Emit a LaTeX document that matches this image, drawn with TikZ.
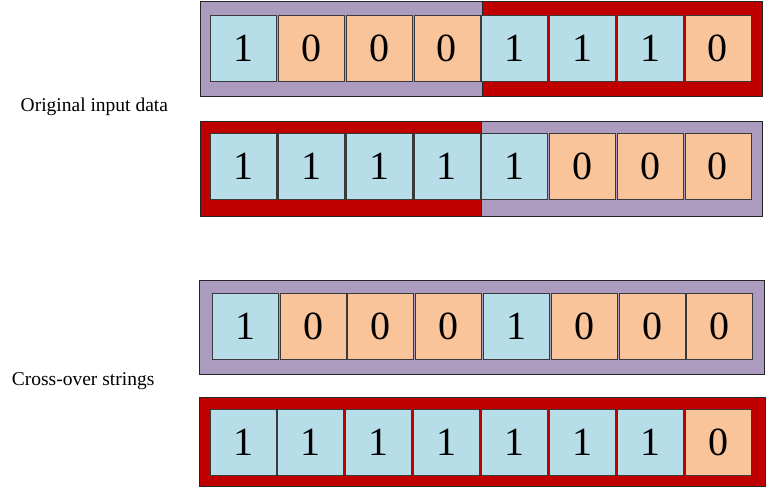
\documentclass[tikz,border=0pt]{standalone}
\usepackage{fontspec}
\setmainfont{Liberation Serif}
\definecolor{cellblue}{HTML}{B7DEE8}
\definecolor{cellorange}{HTML}{F9C49A}
\definecolor{framepurple}{HTML}{AA9BBF}
\definecolor{framered}{HTML}{C00000}
\definecolor{cellline}{HTML}{3A3A3A}
\begin{document}
\begin{tikzpicture}[x=1pt,y=-1pt,
  cell/.style={draw=cellline, line width=0.9pt, minimum width=66pt, minimum height=66pt, inner sep=0pt, font=\fontsize{40}{40}\selectfont},
  bit1/.style={cell, fill=cellblue},
  bit0/.style={cell, fill=cellorange},
  frame/.style={draw=black!85, line width=0.8pt, inner sep=0pt, anchor=north west},
  lbl/.style={anchor=base west, inner sep=0pt, font=\fontsize{19.5}{22}\selectfont}]
\useasboundingbox (0,0) rectangle (768,488);
% frames
\node[frame, fill=framepurple, minimum width=281.7pt, minimum height=94.5pt] (fa1) at (200,1) {};
\node[frame, fill=framered, minimum width=280.6pt, minimum height=94.5pt] (fa2) at (481.7,1) {};
\node[frame, fill=framered, minimum width=281pt, minimum height=95.3pt] (fb1) at (200,120.7) {};
\node[frame, fill=framepurple, minimum width=281.3pt, minimum height=95.3pt] (fb2) at (481,120.7) {};
\node[frame, fill=framepurple, minimum width=565.5pt, minimum height=94pt] (fc) at (198.5,279.5) {};
\node[frame, fill=framered, minimum width=566.5pt, minimum height=88.7pt] (fd) at (198.5,397.3) {};
% cells
\foreach \b [count=\i from 0] in {1,0,0,0,1,1,1,0}
  \node[bit\b] (ra\i) at ({243.7+67.75*\i},48) {\b};
\foreach \b [count=\i from 0] in {1,1,1,1,1,0,0,0}
  \node[bit\b] (rb\i) at ({243.7+67.75*\i},166.3) {\b};
\foreach \b [count=\i from 0] in {1,0,0,0,1,0,0,0}
  \node[bit\b] (rc\i) at ({245.3+67.8*\i},326.7) {\b};
\foreach \b [count=\i from 0] in {1,1,1,1,1,1,1,0}
  \node[bit\b] (rd\i) at ({243+67.86*\i},442) {\b};
% labels
\node[lbl] (lorig) at (20.5,111.7) {Original input data};
\node[lbl] (lcross) at (11.7,385.7) {Cross-over strings};
\end{tikzpicture}
\end{document}
